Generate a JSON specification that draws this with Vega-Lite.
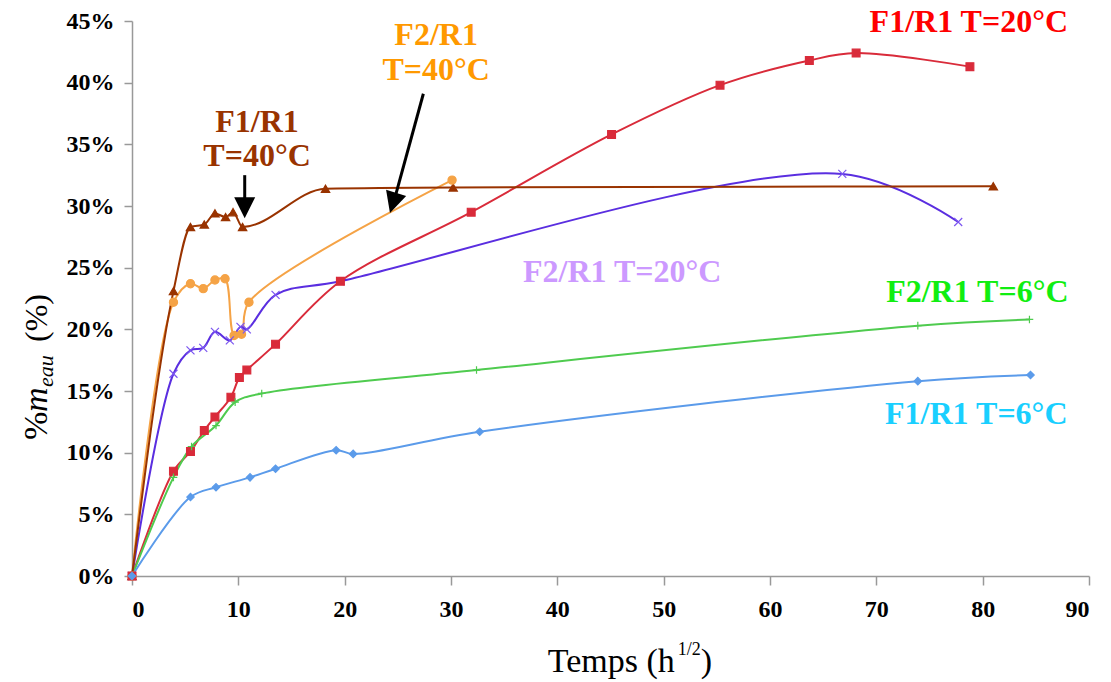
{
  "$schema": "https://vega.github.io/schema/vega-lite/v6.json",
  "width": 957,
  "height": 555,
  "autosize": {"type": "none"},
  "padding": {"left": 132, "top": 21, "right": 22, "bottom": 106},
  "background": "white",
  "config": {
    "view": {"stroke": null},
    "style": {"guide-label": {"font": "Liberation Serif", "fontWeight": "bold", "fontSize": 24, "fill": "#000000"}},
    "axis": {"grid": false, "domainColor": "#999999", "domainWidth": 1.5, "tickColor": "#999999", "tickWidth": 1.5, "labelFont": "Liberation Serif", "labelFontWeight": "bold", "labelFontSize": 24, "labelColor": "#000000"},
    "axisX": {"tickCount": 9, "tickSize": 9, "labelPadding": 12},
    "axisY": {"tickCount": 9, "tickSize": 8, "labelPadding": 10, "labelExpr": "datum.value + '%'"}
  },
  "datasets": {
    "series": [
      {"s": "A", "x": 0, "y": 0}, {"s": "A", "x": 3.9, "y": 23.1}, {"s": "A", "x": 5.5, "y": 28.3}, {"s": "A", "x": 6.8, "y": 28.5}, {"s": "A", "x": 7.8, "y": 29.4}, {"s": "A", "x": 8.8, "y": 29.1}, {"s": "A", "x": 9.5, "y": 29.5}, {"s": "A", "x": 10.4, "y": 28.3}, {"s": "A", "x": 18.2, "y": 31.4}, {"s": "A", "x": 30.2, "y": 31.5}, {"s": "A", "x": 81.0, "y": 31.6},
      {"s": "B", "x": 0, "y": 0}, {"s": "B", "x": 3.9, "y": 22.2}, {"s": "B", "x": 5.5, "y": 23.7}, {"s": "B", "x": 6.7, "y": 23.3}, {"s": "B", "x": 7.8, "y": 24.0}, {"s": "B", "x": 8.75, "y": 24.1}, {"s": "B", "x": 9.6, "y": 19.5}, {"s": "B", "x": 10.3, "y": 19.6}, {"s": "B", "x": 11.0, "y": 22.2}, {"s": "B", "x": 30.1, "y": 32.1},
      {"s": "C", "x": 0, "y": 0}, {"s": "C", "x": 3.9, "y": 16.4}, {"s": "C", "x": 5.5, "y": 18.3}, {"s": "C", "x": 6.7, "y": 18.5}, {"s": "C", "x": 7.8, "y": 19.8}, {"s": "C", "x": 9.2, "y": 19.1}, {"s": "C", "x": 10.2, "y": 20.2}, {"s": "C", "x": 10.8, "y": 20.0}, {"s": "C", "x": 13.5, "y": 22.8}, {"s": "C", "x": 19.6, "y": 23.9}, {"s": "C", "x": 66.8, "y": 32.6}, {"s": "C", "x": 77.7, "y": 28.7},
      {"s": "D", "x": 0, "y": 0}, {"s": "D", "x": 3.9, "y": 8.5}, {"s": "D", "x": 5.5, "y": 10.1}, {"s": "D", "x": 6.8, "y": 11.8}, {"s": "D", "x": 7.8, "y": 12.9}, {"s": "D", "x": 9.3, "y": 14.5}, {"s": "D", "x": 10.1, "y": 16.1}, {"s": "D", "x": 10.8, "y": 16.7}, {"s": "D", "x": 13.5, "y": 18.8}, {"s": "D", "x": 19.6, "y": 23.9}, {"s": "D", "x": 31.9, "y": 29.5}, {"s": "D", "x": 45.1, "y": 35.8}, {"s": "D", "x": 55.3, "y": 39.8}, {"s": "D", "x": 63.7, "y": 41.8}, {"s": "D", "x": 68.1, "y": 42.4}, {"s": "D", "x": 78.8, "y": 41.3},
      {"s": "E", "x": 0, "y": 0}, {"s": "E", "x": 3.9, "y": 8.0}, {"s": "E", "x": 5.6, "y": 10.5}, {"s": "E", "x": 7.9, "y": 12.2}, {"s": "E", "x": 9.7, "y": 14.1}, {"s": "E", "x": 12.2, "y": 14.8}, {"s": "E", "x": 32.4, "y": 16.7}, {"s": "E", "x": 73.9, "y": 20.3}, {"s": "E", "x": 84.4, "y": 20.8},
      {"s": "F", "x": 0, "y": 0}, {"s": "F", "x": 5.5, "y": 6.4}, {"s": "F", "x": 7.9, "y": 7.2}, {"s": "F", "x": 11.1, "y": 8.0}, {"s": "F", "x": 13.5, "y": 8.7}, {"s": "F", "x": 19.2, "y": 10.2}, {"s": "F", "x": 20.8, "y": 9.9}, {"s": "F", "x": 32.7, "y": 11.7}, {"s": "F", "x": 73.9, "y": 15.8}, {"s": "F", "x": 84.5, "y": 16.3}
    ],
    "labels": [
      {"g": "A", "x": 11.76, "y": 36.0, "t": "F1/R1"},
      {"g": "A", "x": 11.76, "y": 33.25, "t": "T=40°C"},
      {"g": "B", "x": 28.6, "y": 43.07, "t": "F2/R1"},
      {"g": "B", "x": 28.6, "y": 40.23, "t": "T=40°C"},
      {"g": "C", "x": 46.1, "y": 23.85, "t": "F2/R1 T=20°C"},
      {"g": "D", "x": 78.7, "y": 44.12, "t": "F1/R1 T=20°C"},
      {"g": "E", "x": 79.5, "y": 22.2, "t": "F2/R1 T=6°C"},
      {"g": "F", "x": 79.4, "y": 12.3, "t": "F1/R1 T=6°C"}
    ],
    "arrows": [
      {"a": 1, "x": 10.6, "y": 32.5, "x2": 10.6, "y2": 30.6},
      {"a": 2, "x": 27.4, "y": 39.1, "x2": 24.8, "y2": 30.9}
    ],
    "heads": [
      {"a": 1, "x": 10.6, "y": 29.85},
      {"a": 2, "x": 24.55, "y": 30.25}
    ],
    "anchors": [
      {"k": "xt", "x": 39.1, "y": -7.8},
      {"k": "yt", "x": -8.0, "y": 11.03}
    ]
  },
  "layer": [
    {
      "data": {"name": "series"},
      "transform": [{"filter": "datum.s != 'A'"}],
      "mark": {"type": "line", "interpolate": "catmull-rom", "strokeWidth": 2},
      "encoding": {
        "x": {"field": "x", "type": "quantitative", "scale": {"domain": [0, 90]}, "title": null, "axis": {"labelFont": "Liberation Serif", "labelFontWeight": "bold", "labelFontSize": 24}},
        "y": {"field": "y", "type": "quantitative", "scale": {"domain": [0, 45]}, "title": null, "axis": {"labelFont": "Liberation Serif", "labelFontWeight": "bold", "labelFontSize": 24}},
        "color": {"field": "s", "type": "nominal", "legend": null, "scale": {"domain": ["A", "B", "C", "D", "E", "F"], "range": ["#993300", "#F5A346", "#5A2EE0", "#D92B3A", "#4FCB4F", "#5B9BEA"]}}
      }
    },
    {
      "data": {"name": "series"},
      "transform": [{"filter": "datum.s == 'A'"}],
      "mark": {"type": "line", "interpolate": "monotone", "strokeWidth": 2, "color": "#993300"},
      "encoding": {
        "x": {"field": "x", "type": "quantitative", "scale": {"domain": [0, 90]}, "title": null},
        "y": {"field": "y", "type": "quantitative", "scale": {"domain": [0, 45]}, "title": null}
      }
    },
    {
      "data": {"name": "series"},
      "mark": {"type": "point", "filled": true, "opacity": 1, "strokeWidth": 1.2},
      "encoding": {
        "x": {"field": "x", "type": "quantitative", "scale": {"domain": [0, 90]}, "title": null},
        "y": {"field": "y", "type": "quantitative", "scale": {"domain": [0, 45]}, "title": null},
        "color": {"field": "s", "type": "nominal", "legend": null, "scale": {"domain": ["A", "B", "C", "D", "E", "F"], "range": ["#993300", "#F5A346", "#5A2EE0", "#D92B3A", "#4FCB4F", "#5B9BEA"]}},
        "stroke": {"field": "s", "type": "nominal", "legend": null, "scale": {"domain": ["A", "B", "C", "D", "E", "F"], "range": ["#993300", "#F5A346", "#7B55F0", "#D92B3A", "#4FCB4F", "#5B9BEA"]}},
        "shape": {"field": "s", "type": "nominal", "legend": null, "scale": {"domain": ["A", "B", "C", "D", "E", "F"], "range": ["triangle-up", "circle", "M-1,-1L1,1M-1,1L1,-1", "square", "M-1,0L1,0M0,-1L0,1", "diamond"]}},
        "size": {"field": "s", "type": "nominal", "legend": null, "scale": {"domain": ["A", "B", "C", "D", "E", "F"], "range": [70, 55, 40, 70, 25, 45]}}
      }
    },
    {
      "data": {"name": "arrows"},
      "mark": {"type": "rule", "color": "#000000", "strokeWidth": 3},
      "encoding": {
        "x": {"field": "x", "type": "quantitative", "scale": {"domain": [0, 90]}, "title": null},
        "y": {"field": "y", "type": "quantitative", "scale": {"domain": [0, 45]}, "title": null},
        "x2": {"field": "x2"},
        "y2": {"field": "y2"}
      }
    },
    {
      "data": {"name": "heads"},
      "transform": [{"filter": "datum.a == 1"}],
      "mark": {"type": "point", "shape": "M-1,-1L1,-1L0,1Z", "filled": true, "color": "#000000", "opacity": 1, "size": 441, "angle": 0},
      "encoding": {
        "x": {"field": "x", "type": "quantitative", "scale": {"domain": [0, 90]}, "title": null},
        "y": {"field": "y", "type": "quantitative", "scale": {"domain": [0, 45]}, "title": null}
      }
    },
    {
      "data": {"name": "heads"},
      "transform": [{"filter": "datum.a == 2"}],
      "mark": {"type": "point", "shape": "M-1,-1L1,-1L0,1Z", "filled": true, "color": "#000000", "opacity": 1, "size": 441, "angle": 17},
      "encoding": {
        "x": {"field": "x", "type": "quantitative", "scale": {"domain": [0, 90]}, "title": null},
        "y": {"field": "y", "type": "quantitative", "scale": {"domain": [0, 45]}, "title": null}
      }
    },
    {
      "data": {"name": "labels"},
      "mark": {"type": "text", "font": "Liberation Serif", "fontWeight": "bold", "fontSize": 32, "align": "center", "baseline": "alphabetic"},
      "encoding": {
        "x": {"field": "x", "type": "quantitative", "scale": {"domain": [0, 90]}, "title": null},
        "y": {"field": "y", "type": "quantitative", "scale": {"domain": [0, 45]}, "title": null},
        "text": {"field": "t"},
        "color": {"field": "g", "type": "nominal", "legend": null, "scale": {"domain": ["A", "B", "C", "D", "E", "F"], "range": ["#993300", "#FF9900", "#CC99FF", "#FF0000", "#11EE11", "#19CFFF"]}}
      }
    },
    {
      "data": {"name": "anchors"},
      "transform": [{"filter": "datum.k == 'xt'"}],
      "mark": {"type": "text", "text": "Temps (h", "font": "Liberation Serif", "fontSize": 34, "align": "left", "baseline": "alphabetic", "color": "#000000"},
      "encoding": {
        "x": {"field": "x", "type": "quantitative", "scale": {"domain": [0, 90]}, "title": null},
        "y": {"field": "y", "type": "quantitative", "scale": {"domain": [0, 45]}, "title": null}
      }
    },
    {
      "data": {"name": "anchors"},
      "transform": [{"filter": "datum.k == 'xt'"}],
      "mark": {"type": "text", "text": "1/2", "font": "Liberation Serif", "fontSize": 18, "align": "left", "baseline": "alphabetic", "color": "#000000", "dx": 130, "dy": -17},
      "encoding": {
        "x": {"field": "x", "type": "quantitative", "scale": {"domain": [0, 90]}, "title": null},
        "y": {"field": "y", "type": "quantitative", "scale": {"domain": [0, 45]}, "title": null}
      }
    },
    {
      "data": {"name": "anchors"},
      "transform": [{"filter": "datum.k == 'xt'"}],
      "mark": {"type": "text", "text": ")", "font": "Liberation Serif", "fontSize": 34, "align": "left", "baseline": "alphabetic", "color": "#000000", "dx": 153},
      "encoding": {
        "x": {"field": "x", "type": "quantitative", "scale": {"domain": [0, 90]}, "title": null},
        "y": {"field": "y", "type": "quantitative", "scale": {"domain": [0, 45]}, "title": null}
      }
    },
    {
      "data": {"name": "anchors"},
      "transform": [{"filter": "datum.k == 'yt'"}],
      "mark": {"type": "text", "text": "%", "font": "Liberation Serif", "fontSize": 34, "align": "left", "baseline": "alphabetic", "color": "#000000", "angle": 270},
      "encoding": {
        "x": {"field": "x", "type": "quantitative", "scale": {"domain": [0, 90]}, "title": null},
        "y": {"field": "y", "type": "quantitative", "scale": {"domain": [0, 45]}, "title": null}
      }
    },
    {
      "data": {"name": "anchors"},
      "transform": [{"filter": "datum.k == 'yt'"}],
      "mark": {"type": "text", "text": "m", "font": "Liberation Serif", "fontStyle": "italic", "fontSize": 34, "align": "left", "baseline": "alphabetic", "color": "#000000", "angle": 270, "dx": 28},
      "encoding": {
        "x": {"field": "x", "type": "quantitative", "scale": {"domain": [0, 90]}, "title": null},
        "y": {"field": "y", "type": "quantitative", "scale": {"domain": [0, 45]}, "title": null}
      }
    },
    {
      "data": {"name": "anchors"},
      "transform": [{"filter": "datum.k == 'yt'"}],
      "mark": {"type": "text", "text": "eau", "font": "Liberation Serif", "fontStyle": "italic", "fontSize": 22, "align": "left", "baseline": "alphabetic", "color": "#000000", "angle": 270, "dx": 53, "dy": 6},
      "encoding": {
        "x": {"field": "x", "type": "quantitative", "scale": {"domain": [0, 90]}, "title": null},
        "y": {"field": "y", "type": "quantitative", "scale": {"domain": [0, 45]}, "title": null}
      }
    },
    {
      "data": {"name": "anchors"},
      "transform": [{"filter": "datum.k == 'yt'"}],
      "mark": {"type": "text", "text": "(%)", "font": "Liberation Serif", "fontSize": 32, "align": "left", "baseline": "alphabetic", "color": "#000000", "angle": 270, "dx": 98},
      "encoding": {
        "x": {"field": "x", "type": "quantitative", "scale": {"domain": [0, 90]}, "title": null},
        "y": {"field": "y", "type": "quantitative", "scale": {"domain": [0, 45]}, "title": null}
      }
    }
  ],
  "resolve": {"scale": {"color": "independent"}}
}
